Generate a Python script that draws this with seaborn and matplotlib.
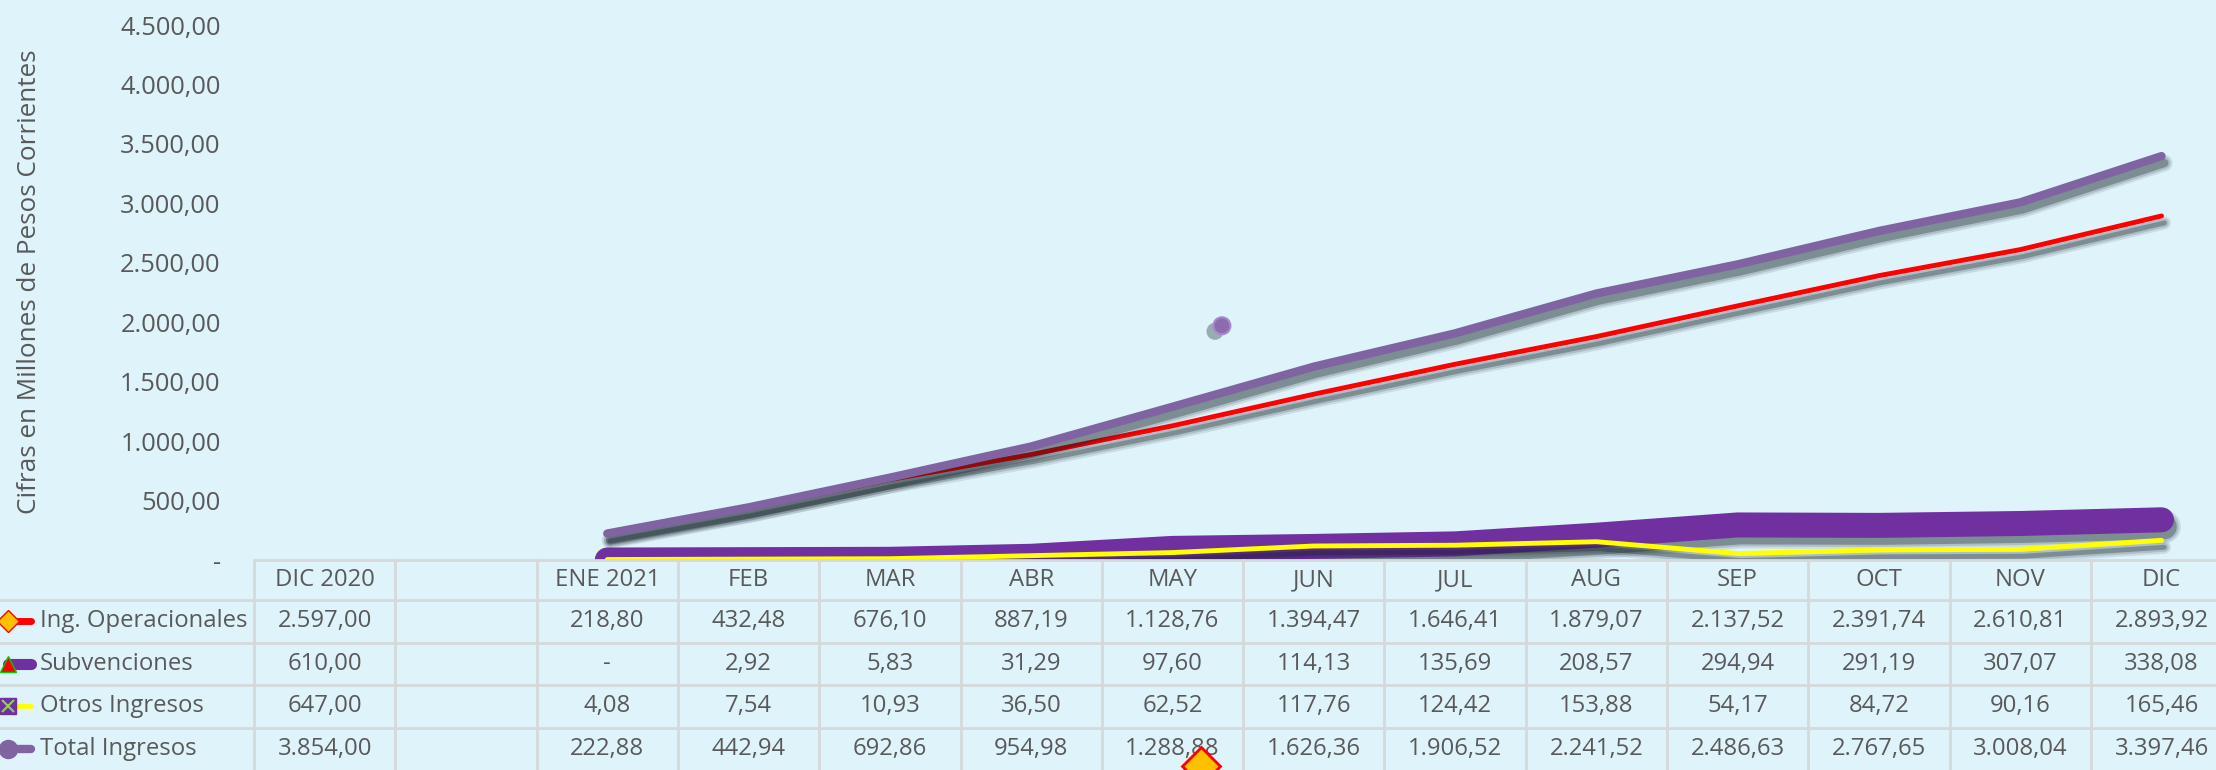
import numpy as np
import pandas as pd
import matplotlib
matplotlib.use("Agg")
import matplotlib.pyplot as plt
import matplotlib.patheffects as pe
from matplotlib import transforms
from matplotlib.ticker import FuncFormatter
import seaborn as sns

# datos (cifras en millones de pesos corrientes)
columnas = ["DIC 2020", "", "ENE 2021", "FEB", "MAR", "ABR", "MAY", "JUN",
            "JUL", "AUG", "SEP", "OCT", "NOV", "DIC"]
ing_operacionales = [2597.00, None, 218.80, 432.48, 676.10, 887.19, 1128.76, 1394.47,
                     1646.41, 1879.07, 2137.52, 2391.74, 2610.81, 2893.92]
subvenciones = [610.00, None, 0.0, 2.92, 5.83, 31.29, 97.60, 114.13,
                135.69, 208.57, 294.94, 291.19, 307.07, 338.08]
otros_ingresos = [647.00, None, 4.08, 7.54, 10.93, 36.50, 62.52, 117.76,
                  124.42, 153.88, 54.17, 84.72, 90.16, 165.46]
total_ingresos = [3854.00, None, 222.88, 442.94, 692.86, 954.98, 1288.88, 1626.36,
                  1906.52, 2241.52, 2486.63, 2767.65, 3008.04, 3397.46]
series = ["Ing. Operacionales", "Subvenciones", "Otros Ingresos", "Total Ingresos"]
y_ticks = [0, 500, 1000, 1500, 2000, 2500, 3000, 3500, 4000, 4500]
# marcadores sueltos que aparecen en el grafico original
punto_suelto_x = 6.35
punto_suelto_y = 1970
rombo_suelto_x = 6.2

fondo = "#DFF3FA"
texto = "#595959"
borde = "#D5D9DB"
sns.set_theme(style="white")
plt.rcParams["font.family"] = ["Open Sans", "DejaVu Sans"]


def formato_es(v):
    if v is None:
        return ""
    if v == 0:
        return "-"
    s = f"{v:,.2f}"
    return s.replace(",", "X").replace(".", ",").replace("X", ".")


W, H = 2216, 770
col_w = 141.3
fs_tabla = 17.2
fs_eje = 18.3
fig = plt.figure(figsize=(W / 100, H / 100), dpi=100)
fig.patch.set_facecolor(fondo)
ax = fig.add_axes([254 / W, 210 / H, 14 * col_w / W, 535 / H])
tab = fig.add_axes([254 / W, 0, 14 * col_w / W, 210 / H])
for a in (ax, tab):
    a.set_facecolor("none")
    for s in a.spines.values():
        s.set_visible(False)

x = np.arange(len(columnas))
df = pd.DataFrame({"x": x, "Ing. Operacionales": ing_operacionales,
                   "Subvenciones": subvenciones, "Otros Ingresos": otros_ingresos,
                   "Total Ingresos": total_ingresos})
df_meses = df.iloc[2:].astype(float)

estilos = {
    "Ing. Operacionales": dict(color="#FF0000", lw=3.5),
    "Subvenciones": dict(color="#7030A0", lw=18),
    "Otros Ingresos": dict(color="#FFFF00", lw=3.5),
    "Total Ingresos": dict(color="#8064A2", lw=6),
}


def sombra(lw):
    # sombra difusa: varias capas con alfa bajo
    capas = []
    for extra, alfa in [(6, 0.10), (3, 0.15), (0, 0.30)]:
        capas.append(pe.SimpleLineShadow(offset=(2, -5), shadow_color="#0d1a20",
                                         alpha=alfa, linewidth=lw + extra))
    return capas + [pe.Normal()]


for nombre in series:
    st = estilos[nombre]
    sns.lineplot(data=df_meses, x="x", y=nombre, ax=ax, color=st["color"],
                 linewidth=st["lw"], sort=False, legend=False,
                 solid_capstyle="round", solid_joinstyle="round",
                 path_effects=sombra(st["lw"]))

ax.scatter([punto_suelto_x], [punto_suelto_y], s=150, color="#8C6BB1",
           edgecolor="#A58BCB", linewidth=1.5, zorder=5,
           path_effects=[pe.SimplePatchShadow(offset=(-5, -4), alpha=0.35,
                                              shadow_rgbFace="#1a2a30"), pe.Normal()])

ax.set_xlim(-0.5, 13.5)
ax.set_ylim(0, 4500)
ax.set_yticks(y_ticks)
ax.yaxis.set_major_formatter(FuncFormatter(lambda v, p: formato_es(v)))
ax.tick_params(axis="y", length=0, pad=24, labelsize=fs_eje, labelcolor=texto)
ax.set_xticks([])
ax.set_xlabel("")
ax.set_ylabel("Cifras en Millones de Pesos Corrientes", fontsize=18.8, color=texto)
ax.yaxis.set_label_coords(-0.107, 0.52)

# tabla de datos debajo del grafico
tab.set_xlim(-0.5, 13.5)
tab.set_ylim(0, 210)
tab.set_xticks([])
tab.set_yticks([])
tr = transforms.blended_transform_factory(fig.transFigure, tab.transData)
alto_enc = 40
alto_fila = 42.5

tab.plot([-0.5, 13.5], [210, 210], color=borde, lw=2, clip_on=False)
for k in range(14):
    tab.plot([k - 0.5, k - 0.5], [0, 210], color=borde, lw=2, clip_on=False)
for r in range(4):
    y = 210 - alto_enc - alto_fila * r
    tab.plot([0, 1], [y, y], transform=tr, color=borde, lw=2, clip_on=False)

for i, c in enumerate(columnas):
    tab.text(i, 210 - alto_enc / 2, c, ha="center", va="center", fontsize=fs_tabla,
             color=texto)

valores = [ing_operacionales, subvenciones, otros_ingresos, total_ingresos]
claves = [
    dict(marker="D", mfc="#FFC000", mec="#FF0000", ms=11),
    dict(marker="^", mfc="#FF0000", mec="#00CC00", ms=12),
    dict(marker="s", mfc="#7030A0", mec="#7030A0", ms=11),
    dict(marker="o", mfc="#8064A2", mec="#8064A2", ms=13),
]
for r, nombre in enumerate(series):
    yc = 210 - alto_enc - alto_fila * (r + 0.5)
    for i, v in enumerate(valores[r]):
        tab.text(i, yc, formato_es(v), ha="center", va="center", fontsize=fs_tabla,
                 color=texto)
    tab.text(40 / W, yc, nombre, transform=tr, ha="left", va="center", fontsize=fs_tabla,
             color=texto)
    st = estilos[nombre]
    tab.plot([8 / W, 31 / W], [yc, yc], transform=tr, color=st["color"],
             lw=min(st["lw"], 8) if r != 0 else 5, solid_capstyle="round", clip_on=False)
    tab.plot([8 / W], [yc], transform=tr, linestyle="none", clip_on=False, **claves[r])
    if r == 2:
        tab.plot([8 / W], [yc], transform=tr, linestyle="none", marker="x",
                 mec="#92D050", ms=9, mew=1.5, clip_on=False)

# rombo suelto cortado en el borde inferior
tab.plot([rombo_suelto_x], [4], linestyle="none", marker="D", ms=19,
         mfc="#FFC000", mec="#FF0000", mew=2, clip_on=False, zorder=6)

fig.savefig("out.png", dpi=100, facecolor=fondo)
